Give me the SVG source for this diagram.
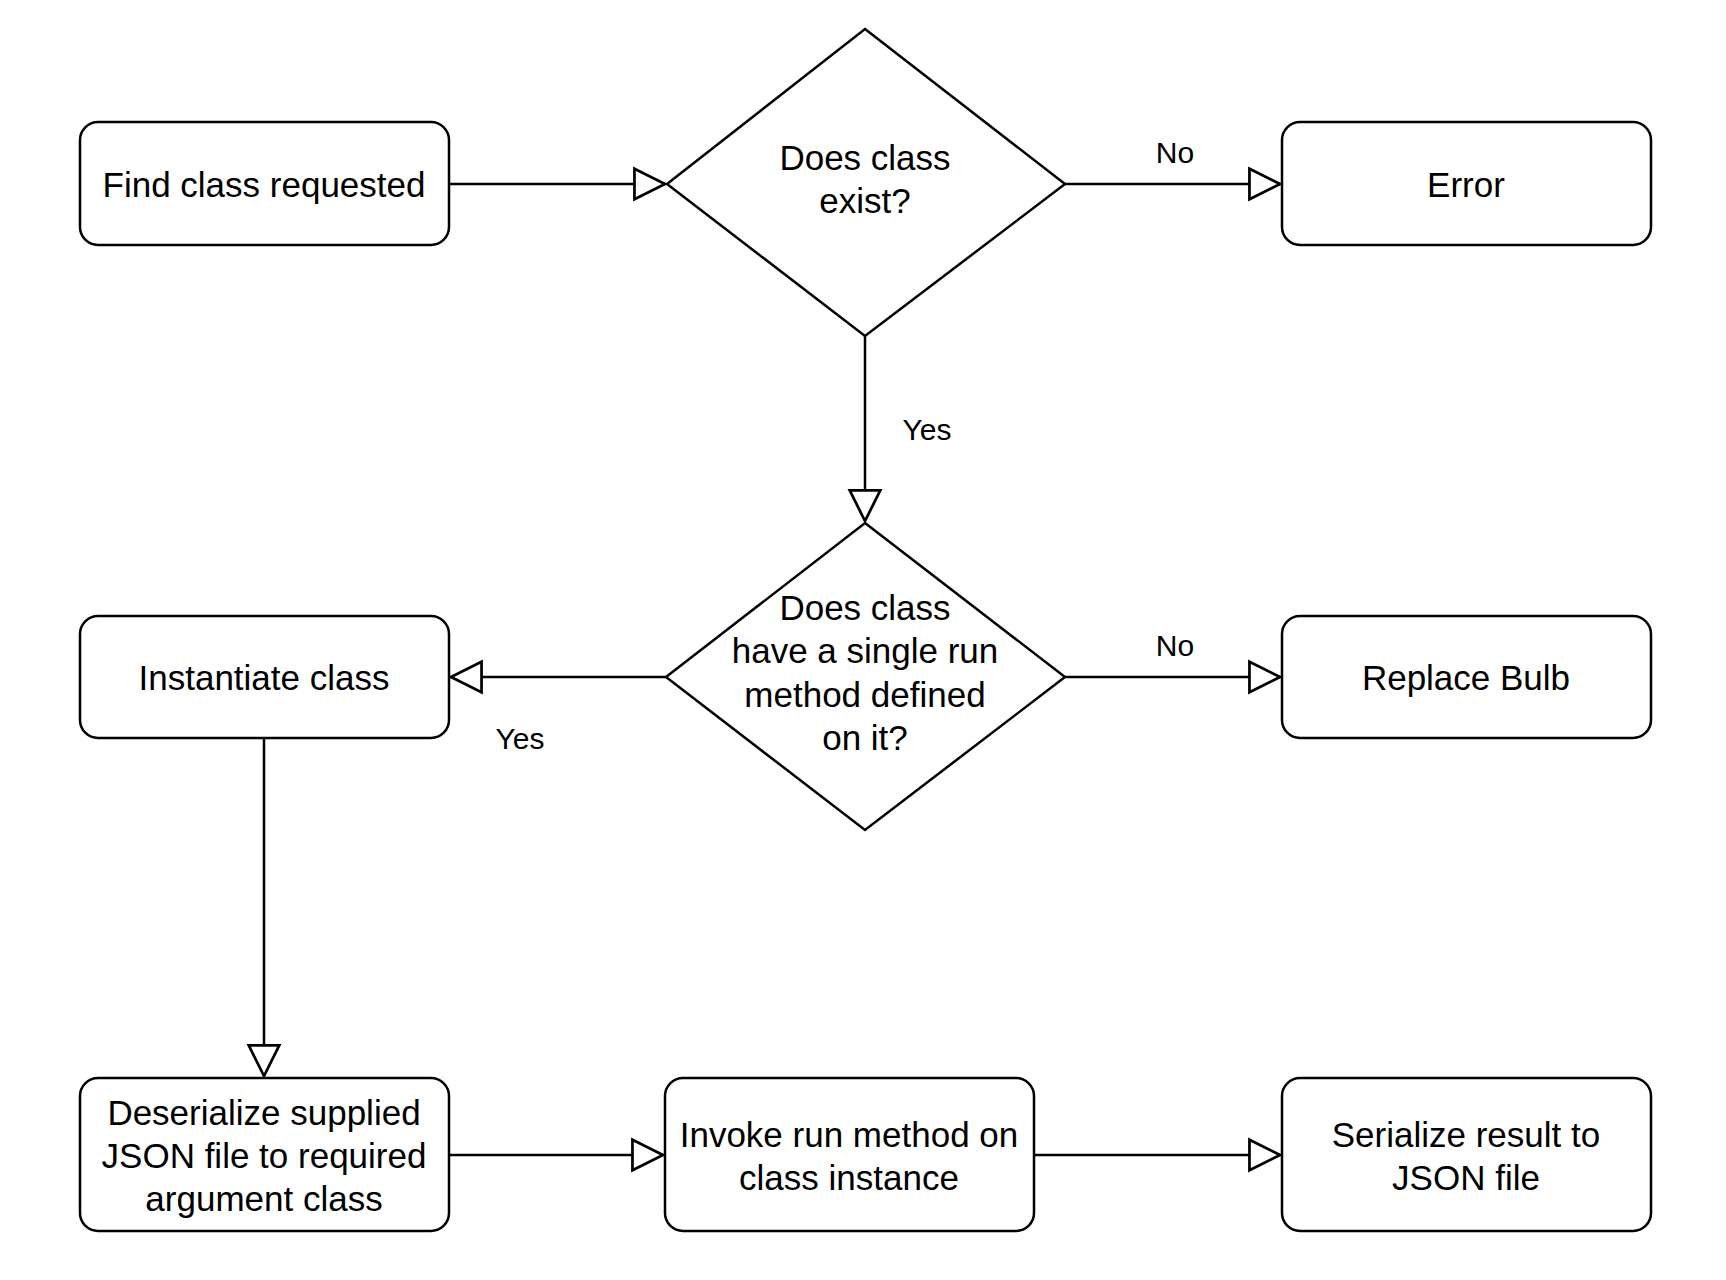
<svg xmlns="http://www.w3.org/2000/svg" width="1726" height="1280" viewBox="0 0 1726 1280">
<style>
.n{fill:#fff;stroke:#000;stroke-width:2.5}
.t{font-family:"Liberation Sans",Arial,sans-serif;font-size:35px;text-anchor:middle;dominant-baseline:central;fill:#000}
.l{font-family:"Liberation Sans",Arial,sans-serif;font-size:30px;text-anchor:middle;dominant-baseline:central;fill:#000}
.c{stroke:#000;stroke-width:2.5;fill:none;marker-end:url(#a)}
</style>
<defs><marker id="a" markerWidth="12" markerHeight="12" refX="10" refY="5" viewBox="0 0 11 10" orient="auto" markerUnits="userSpaceOnUse" style="overflow:visible"><path d="M0,0 L28,14 L0,28 Z" transform="translate(-18,-9)" fill="#fff" stroke="#000" stroke-width="2.5"/></marker></defs>
<rect width="1726" height="1280" fill="#fff"/>
<g id="connectors">
<path class="c" d="M449,184 H665"/>
<path class="c" d="M1065,184 H1280"/>
<path class="c" d="M865,336 V521"/>
<path class="c" d="M666,677 H451"/>
<path class="c" d="M1065,677 H1280"/>
<path class="c" d="M264,738 V1076"/>
<path class="c" d="M449,1155 H663"/>
<path class="c" d="M1034,1155 H1280"/>
<text class="l" x="1175" y="152">No</text>
<text class="l" x="927" y="429">Yes</text>
<text class="l" x="1175" y="645">No</text>
<text class="l" x="520" y="738">Yes</text>
</g>
<g id="find"><rect class="n" x="80" y="122" width="369" height="123" rx="18"/><text class="t" x="264" y="184">Find class requested</text></g>
<g id="exist"><path class="n" d="M865,29 L1065,184 L865,336 L667,184 Z"/><text class="t" x="865" y="157">Does class</text><text class="t" x="865" y="200">exist?</text></g>
<g id="error"><rect class="n" x="1282" y="122" width="369" height="123" rx="18"/><text class="t" x="1466" y="184">Error</text></g>
<g id="single"><path class="n" d="M865,523 L1065,677 L865,830 L666,677 Z"/><text class="t" x="865" y="607">Does class</text><text class="t" x="865" y="650">have a single run</text><text class="t" x="865" y="694">method defined</text><text class="t" x="865" y="737">on it?</text></g>
<g id="instantiate"><rect class="n" x="80" y="616" width="369" height="122" rx="18"/><text class="t" x="264" y="677">Instantiate class</text></g>
<g id="bulb"><rect class="n" x="1282" y="616" width="369" height="122" rx="18"/><text class="t" x="1466" y="677">Replace Bulb</text></g>
<g id="deserialize"><rect class="n" x="80" y="1078" width="369" height="153" rx="18"/><text class="t" x="264" y="1112">Deserialize supplied</text><text class="t" x="264" y="1155">JSON file to required</text><text class="t" x="264" y="1198">argument class</text></g>
<g id="invoke"><rect class="n" x="665" y="1078" width="369" height="153" rx="18"/><text class="t" x="849" y="1134">Invoke run method on</text><text class="t" x="849" y="1177">class instance</text></g>
<g id="serialize"><rect class="n" x="1282" y="1078" width="369" height="153" rx="18"/><text class="t" x="1466" y="1134">Serialize result to</text><text class="t" x="1466" y="1177">JSON file</text></g>
</svg>
